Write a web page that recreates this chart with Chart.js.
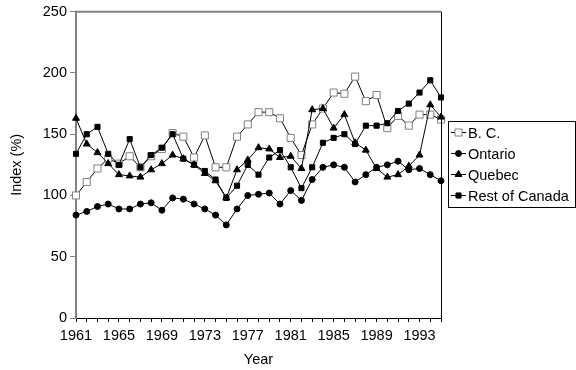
<!DOCTYPE html>
<html>
<head>
<meta charset="utf-8">
<script src="https://cdn.jsdelivr.net/npm/chart.js@4.4.1/dist/chart.umd.min.js"></script>
<style>
  html, body { margin: 0; padding: 0; background: #fff; }
  #wrap { position: relative; width: 576px; height: 370px; }
</style>
</head>
<body>
<div id="wrap"><canvas id="indexChart" width="576" height="370"></canvas></div>
<script>
/* Regional index, 1961-1995 */

const years = [
  '1961', '1962', '1963', '1964', '1965', '1966', '1967', '1968', '1969', '1970',
  '1971', '1972', '1973', '1974', '1975', '1976', '1977', '1978', '1979', '1980',
  '1981', '1982', '1983', '1984', '1985', '1986', '1987', '1988', '1989', '1990',
  '1991', '1992', '1993', '1994', '1995',
];

const bc = [
  100, 111, 122, 130, 126, 132, 123, 132, 138, 151,
  148, 131, 149, 123, 123, 148, 158, 168, 168, 163,
  147, 133, 158, 171, 184, 183, 197, 177, 182, 155,
  165, 157, 166, 166, 162,
];

const ontario = [
  84, 87, 91, 93, 89, 89, 93, 94, 88, 98,
  97, 93, 89, 84, 76, 89, 100, 101, 102, 93,
  104, 96, 113, 123, 125, 123, 111, 117, 123, 125,
  128, 121, 122, 117, 112,
];

const quebec = [
  163, 142, 135, 126, 117, 116, 115, 121, 126, 133,
  130, 125, 118, 112, 98, 121, 129, 139, 138, 131,
  132, 122, 170, 171, 155, 166, 143, 137, 122, 115,
  117, 124, 133, 174, 164,
];

const restOfCanada = [
  134, 150, 156, 134, 125, 146, 123, 133, 139, 150,
  130, 125, 120, 113, 98, 108, 125, 117, 131, 137,
  123, 106, 123, 143, 147, 150, 142, 157, 157, 159,
  169, 175, 184, 194, 180,
];

const seriesNames = ['B. C.', 'Ontario', 'Quebec', 'Rest of Canada'];
const yTicks = [0, 50, 100, 150, 200, 250];

const FONT = "'Liberation Sans', Arial, sans-serif";
const GREY = '#808080';

// ── series look (Excel 97 style) ──────────────────
const marker = (style, radius, fill, border) => ({
  pointStyle: style,
  pointRadius: radius,
  pointHoverRadius: radius,
  pointBackgroundColor: fill,
  pointBorderColor: border,
  pointBorderWidth: 1,
});

const looks = [
  marker('rect', 5, '#fff', GREY),
  marker('circle', 3, '#000', '#000'),
  marker('triangle', 4, '#000', '#000'),
  marker('rect', 3.6, '#000', '#000'),
];

const values = [bc, ontario, quebec, restOfCanada];

// ── frame, titles and boxed legend ───────────────
const decor = {
  id: 'decor',
  afterDraw(chart) {
    const { ctx, chartArea: a } = chart;
    ctx.save();

    // top (grey) and right (black) edges of the plot box
    ctx.strokeStyle = GREY;
    ctx.lineWidth = 2;
    ctx.beginPath();
    ctx.moveTo(a.left - 1, a.top);
    ctx.lineTo(a.right, a.top);
    ctx.stroke();
    ctx.strokeStyle = '#000';
    ctx.lineWidth = 1;
    ctx.beginPath();
    ctx.moveTo(a.right + 0.5, a.top);
    ctx.lineTo(a.right + 0.5, a.bottom);
    ctx.stroke();

    // axis titles
    ctx.fillStyle = '#000';
    ctx.font = '14.5px ' + FONT;
    ctx.textAlign = 'center';
    ctx.textBaseline = 'middle';
    ctx.fillText('Year', (a.left + a.right) / 2, 360);
    ctx.save();
    ctx.translate(17, (a.top + a.bottom) / 2);
    ctx.rotate(-Math.PI / 2);
    ctx.fillText('Index (%)', 0, 0);
    ctx.restore();

    // legend box
    const box = { x: 448.5, y: 121.5, w: 127, h: 86 };
    ctx.strokeStyle = '#000';
    ctx.lineWidth = 1;
    ctx.strokeRect(box.x, box.y, box.w, box.h);

    ctx.textAlign = 'left';
    chart.data.datasets.forEach((ds, i) => {
      const y = Math.round(131.5 + i * 21.3) + 0.5;
      ctx.strokeStyle = '#000';
      ctx.beginPath();
      ctx.moveTo(451, y);
      ctx.lineTo(466, y);
      ctx.stroke();
      ctx.fillStyle = ds.pointBackgroundColor;
      ctx.strokeStyle = ds.pointBorderColor;
      ctx.lineWidth = 1;
      Chart.helpers.drawPoint(ctx, {
        pointStyle: ds.pointStyle,
        radius: ds.pointRadius,
        rotation: 0,
        borderWidth: 1,
      }, 458.5, y);
      ctx.fillStyle = '#000';
      ctx.fillText(ds.label, 468, y + 1);
    });

    ctx.restore();
  },
};

new Chart(document.getElementById('indexChart'), {
  type: 'line',
  data: {
    labels: years,
    datasets: seriesNames.map((name, i) => ({
      label: name,
      data: values[i],
      borderColor: '#000',
      borderWidth: 1,
      tension: 0,
      fill: false,
      order: seriesNames.length - i,
      ...looks[i],
    })),
  },
  options: {
    responsive: false,
    animation: false,
    events: [],
    layout: { padding: { left: 0, right: 135, top: 10, bottom: 0 } },
    plugins: {
      legend: { display: false },
      tooltip: { enabled: false },
    },
    scales: {
      x: {
        offset: false,
        grid: { drawOnChartArea: false, color: '#000', tickLength: 4 },
        border: { color: '#000', width: 1 },
        ticks: {
          autoSkip: false,
          maxRotation: 0,
          color: '#000',
          padding: 5,
          font: { family: FONT, size: 14.5 },
          callback: (v, i) => (i % 4 === 0 ? years[i] : ''),
        },
        afterFit: (scale) => { scale.height = 52; },
      },
      y: {
        min: 0,
        max: 250,
        afterBuildTicks: (scale) => { scale.ticks = yTicks.map(v => ({ value: v })); },
        grid: { drawOnChartArea: false, color: GREY, tickLength: 6 },
        border: { color: GREY, width: 2 },
        ticks: {
          color: '#000',
          padding: 3,
          font: { family: FONT, size: 14.5 },
        },
        afterFit: (scale) => { scale.width = 76; },
      },
    },
  },
  plugins: [decor],
});
</script>
</body>
</html>
